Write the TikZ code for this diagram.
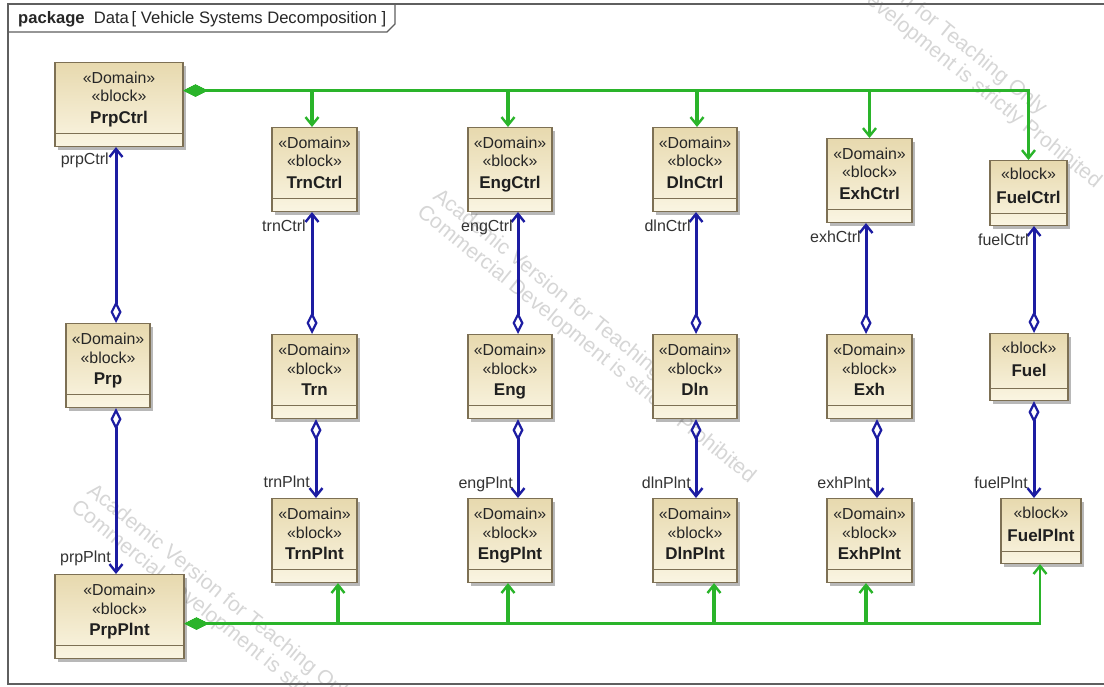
\documentclass[tikz,border=0pt]{standalone}
\usepackage{fontspec}
\setmainfont{Liberation Sans}
\usetikzlibrary{arrows.meta,shadows}

\definecolor{blkTop}{RGB}{231,217,174}
\definecolor{blkBot}{RGB}{250,245,226}
\definecolor{blkEdge}{RGB}{125,112,84}
\definecolor{compBlue}{RGB}{28,28,162}
\definecolor{genGreen}{RGB}{42,180,42}
\definecolor{frameGray}{RGB}{95,95,95}
\definecolor{markGray}{RGB}{214,214,214}

% block with «Domain» «block» stereotypes: name, centre x, top y, width, title
\newcommand\domblock[5]{%
  \node[blockbox, minimum width=#4pt, minimum height=84pt] (#1) at (#2,#3) {};
  \draw[compline] ([yshift=14pt]#1.south west) -- ([yshift=14pt]#1.south east);
  \node[stereo] (#1-s1) at ([yshift=-21.5pt]#1.north) {«Domain»};
  \node[stereo] (#1-s2) at ([yshift=-40pt]#1.north) {«block»};
  \node[titletext] (#1-t) at ([yshift=-61.5pt]#1.north) {#5};
}
% block with the «block» stereotype only: name, centre x, top y, width, height, title
\newcommand\plainblock[6]{%
  \node[blockbox, minimum width=#4pt, minimum height=#5pt] (#1) at (#2,#3) {};
  \draw[compline] ([yshift=13pt]#1.south west) -- ([yshift=13pt]#1.south east);
  \node[stereo] (#1-s1) at ([yshift=-20pt]#1.north) {«block»};
  \node[titletext] (#1-t) at ([yshift=-43.5pt]#1.north) {#6};
}

\begin{document}
\begin{tikzpicture}[x=1pt,y=-1pt,
  blockbox/.style={draw=blkEdge, line width=1.1pt, top color=blkTop, bottom color=blkBot,
    inner sep=0pt, anchor=north,
    drop shadow={shadow xshift=3pt, shadow yshift=-3pt, fill=black, opacity=0.28}},
  compline/.style={draw=blkEdge, line width=1pt},
  stereo/.style={font=\fontsize{15.9}{18}\selectfont, text=black!85, inner sep=0pt, anchor=base},
  titletext/.style={font=\fontsize{17}{20}\selectfont\bfseries, text=black!88, inner sep=0pt, anchor=base},
  role/.style={font=\fontsize{16}{19}\selectfont, text=black!80, inner sep=0pt, anchor=base east},
  comp/.style={draw=compBlue, line width=3pt,
    {Diamond[open, length=22pt, width=11pt, line width=2.2pt]}-{Straight Barb[length=8pt, width=13pt, line width=2.4pt]}},
  gen/.style={draw=genGreen, line width=3.4pt,
    {Diamond[length=24pt, width=12pt]}-{Straight Barb[length=8pt, width=13pt, line width=2.4pt]}},
  genlast/.style={gen, line width=2.4pt},
  frameline/.style={draw=frameGray, line width=1.1pt},
  watermark/.style={font=\fontsize{21}{24}\selectfont, text=markGray, inner sep=0pt,
    anchor=base west, rotate=-39}]

\useasboundingbox (0,0) rectangle (1104,687);
\fill[white] (0,0) rectangle (1104,687);

% licence watermark, repeated diagonally
\node[watermark] (wm1a) at (778,-97) {Academic Version for Teaching Only};
\node[watermark] (wm1b) at (762,-81) {Commercial Development is strictly Prohibited};
\node[watermark] (wm2a) at (432,198) {Academic Version for Teaching Only};
\node[watermark] (wm2b) at (416,214) {Commercial Development is strictly Prohibited};
\node[watermark] (wm3a) at (86,493) {Academic Version for Teaching Only};
\node[watermark] (wm3b) at (70,509) {Commercial Development is strictly Prohibited};

% package frame and its name tab
\draw[frameline] (1120,4) -- (8,4) -- (8,684) -- (1120,684);
\draw[frameline] (8,32) -- (387,32) -- (395,24) -- (395,4);
\node[anchor=base west, inner sep=0pt, font=\fontsize{16.6}{19}\selectfont, text=black!85] (hdr)
  at (18,24) {\textbf{package}\ \ Data\,[ Vehicle Systems Decomposition ]};

% blocks: control row
\domblock{PrpCtrl}{119}{62}{128}{PrpCtrl}
\domblock{TrnCtrl}{314.5}{127}{85}{TrnCtrl}
\domblock{EngCtrl}{510}{127}{84}{EngCtrl}
\domblock{DlnCtrl}{695}{127}{84}{DlnCtrl}
\domblock{ExhCtrl}{869.5}{138}{85}{ExhCtrl}
\plainblock{FuelCtrl}{1028.5}{160}{77}{65}{FuelCtrl}

% blocks: domain row
\domblock{Prp}{108}{323}{84}{Prp}
\domblock{Trn}{314.5}{334}{85}{Trn}
\domblock{Eng}{510}{334}{84}{Eng}
\domblock{Dln}{695}{334}{84}{Dln}
\domblock{Exh}{869.5}{334}{85}{Exh}
\plainblock{Fuel}{1029}{333}{78}{67}{Fuel}

% blocks: plant row
\domblock{PrpPlnt}{119.5}{574}{129}{PrpPlnt}
\domblock{TrnPlnt}{314.5}{498}{85}{TrnPlnt}
\domblock{EngPlnt}{510}{498}{84}{EngPlnt}
\domblock{DlnPlnt}{695}{498}{84}{DlnPlnt}
\domblock{ExhPlnt}{869.5}{498}{85}{ExhPlnt}
\plainblock{FuelPlnt}{1041}{498}{80}{65}{FuelPlnt}

% generalization bus from PrpCtrl to the other controllers
\draw[gen] ([yshift=14pt]PrpCtrl.east) -| ([xshift=-2.5pt]TrnCtrl.north);
\draw[gen] ([yshift=14pt]PrpCtrl.east) -| ([xshift=-2pt]EngCtrl.north);
\draw[gen] ([yshift=14pt]PrpCtrl.east) -| ([xshift=2pt]DlnCtrl.north);
\draw[gen] ([yshift=14pt]PrpCtrl.east) -| (ExhCtrl.north);
\draw[genlast] ([yshift=14pt]PrpCtrl.east) -| (FuelCtrl.north);

% generalization bus from PrpPlnt to the other plants
\draw[gen] ([yshift=-7pt]PrpPlnt.east) -| ([xshift=23.5pt]TrnPlnt.south);
\draw[gen] ([yshift=-7pt]PrpPlnt.east) -| ([xshift=-2pt]EngPlnt.south);
\draw[gen] ([yshift=-7pt]PrpPlnt.east) -| ([xshift=19pt]DlnPlnt.south);
\draw[gen] ([yshift=-7pt]PrpPlnt.east) -| ([xshift=-3.5pt]ExhPlnt.south);
\draw[genlast] ([yshift=-7pt]PrpPlnt.east) -| ([xshift=-1pt]FuelPlnt.south);

% part associations: each domain owns its controller and its plant
\draw[comp] ([xshift=8pt]Prp.north) -- ([xshift=-3pt]PrpCtrl.south);
\draw[comp] ([xshift=8pt]Prp.south) -- ([xshift=-3.5pt]PrpPlnt.north);
\draw[comp] ([xshift=-2.5pt]Trn.north) -- ([xshift=-2.5pt]TrnCtrl.south);
\draw[comp] ([xshift=1.5pt]Trn.south) -- ([xshift=1.5pt]TrnPlnt.north);
\draw[comp] ([xshift=8pt]Eng.north) -- ([xshift=8pt]EngCtrl.south);
\draw[comp] ([xshift=8pt]Eng.south) -- ([xshift=8pt]EngPlnt.north);
\draw[comp] ([xshift=1pt]Dln.north) -- ([xshift=1pt]DlnCtrl.south);
\draw[comp] ([xshift=1pt]Dln.south) -- ([xshift=1pt]DlnPlnt.north);
\draw[comp] ([xshift=-3.5pt]Exh.north) -- ([xshift=-3.5pt]ExhCtrl.south);
\draw[comp] ([xshift=7.5pt]Exh.south) -- ([xshift=7.5pt]ExhPlnt.north);
\draw[comp] ([xshift=5pt]Fuel.north) -- ([xshift=5.5pt]FuelCtrl.south);
\draw[comp] ([xshift=5pt]Fuel.south) -- ([xshift=-7pt]FuelPlnt.north);

% role names at the part ends
\node[role] (rPrpCtrl) at (109,165) {prpCtrl};
\node[role] (rTrnCtrl) at (306,232) {trnCtrl};
\node[role] (rEngCtrl) at (513,232) {engCtrl};
\node[role] (rDlnCtrl) at (691,232) {dlnCtrl};
\node[role] (rExhCtrl) at (861,243) {exhCtrl};
\node[role] (rFuelCtrl) at (1029,246) {fuelCtrl};
\node[role] (rPrpPlnt) at (111,562) {prpPlnt};
\node[role] (rTrnPlnt) at (310,487) {trnPlnt};
\node[role] (rEngPlnt) at (513,488) {engPlnt};
\node[role] (rDlnPlnt) at (691,488) {dlnPlnt};
\node[role] (rExhPlnt) at (871,488) {exhPlnt};
\node[role] (rFuelPlnt) at (1028,488) {fuelPlnt};

\end{tikzpicture}
\end{document}
